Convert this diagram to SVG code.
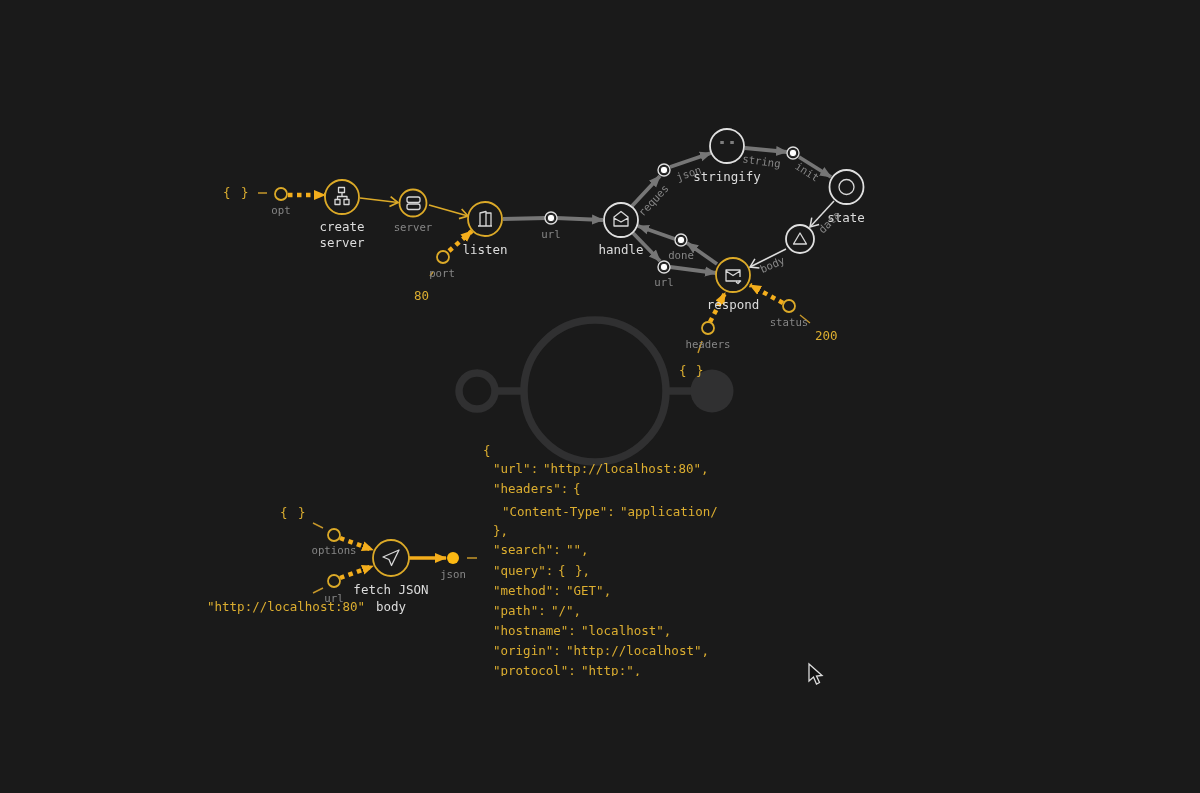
<svg xmlns="http://www.w3.org/2000/svg" width="1200" height="793" viewBox="0 0 1200 793">
<style>
text{font-family:"DejaVu Sans Mono","Liberation Mono",monospace}
.t{font-size:12.5px;fill:#dcdcdc;text-anchor:middle}
.l{font-size:10.7px;fill:#868686;text-anchor:middle}
.v{font-size:12.5px;fill:#dcae30}
.n{fill:#1a1a1a;stroke:#e0e0e0;stroke-width:1.8}
.y{fill:#1a1a1a;stroke:#dcaa28;stroke-width:1.8}
.p{fill:#fff;stroke:#1a1a1a;stroke-width:1}
.r{fill:#1a1a1a;stroke:#dcdcdc;stroke-width:1.4}
.ic{fill:none;stroke:#d8d8d8;stroke-width:1.3;stroke-linejoin:round}
.g{fill:none;stroke:#767676;stroke-width:3.8}
.w{fill:none;stroke:#dcdcdc;stroke-width:1.5}
.o{fill:none;stroke:#dcaa28;stroke-width:1.7}
.d{fill:none;stroke:#f4ae1c;stroke-width:4.5;stroke-dasharray:4.500 4.500}
.s{fill:none;stroke:#f4ae1c;stroke-width:3.6}
.tick{fill:none;stroke:#c5962a;stroke-width:1.4}
</style>
<defs>
<filter id="soft" x="0" y="0" width="1200" height="793" filterUnits="userSpaceOnUse" color-interpolation-filters="sRGB"><feGaussianBlur stdDeviation="0.35"/></filter>
<marker id="ag" markerUnits="userSpaceOnUse" markerWidth="14" markerHeight="12" refX="11" refY="6" orient="auto"><path d="M0 1L12 6L0 11z" fill="#767676"/></marker>
<marker id="aw" markerUnits="userSpaceOnUse" markerWidth="12" markerHeight="12" refX="10" refY="6" orient="auto"><path d="M2 1L10 6L2 11" fill="none" stroke="#dcdcdc" stroke-width="1.5"/></marker>
<marker id="ao" markerUnits="userSpaceOnUse" markerWidth="12" markerHeight="12" refX="10" refY="6" orient="auto"><path d="M2 1L10 6L2 11" fill="none" stroke="#dcaa28" stroke-width="1.7"/></marker>
<marker id="ay" markerUnits="userSpaceOnUse" markerWidth="14" markerHeight="14" refX="11" refY="7" orient="auto"><path d="M0 2L12 7L0 12z" fill="#f4ae1c"/></marker>
<clipPath id="cl"><rect x="480" y="660" width="260" height="16"/></clipPath>
</defs>
<rect width="1200" height="793" fill="#1a1a1a"/>
<g id="diagram" filter="url(#soft)">
<g id="watermark" fill="none" stroke="#303031">
<circle cx="477" cy="391" r="18" stroke-width="7.5"/>
<circle cx="595" cy="391" r="71" stroke-width="7.5"/>
<path d="M498 391H522M668 391H692" stroke-width="7.5"/>
<circle cx="712" cy="391" r="21.500" fill="#303031" stroke="none"/>
</g>
<g id="connectors">
<path class="d" d="M288 195H325" marker-end="url(#ay)"/>
<path class="o" d="M360 198L398 202.500" marker-end="url(#ao)"/>
<path class="o" d="M429 205L468 216" marker-end="url(#ao)"/>
<path class="d" d="M449 251L472 231" marker-end="url(#ay)"/>
<path class="g" d="M503 219L546 218"/>
<path class="g" d="M556 218L603 220" marker-end="url(#ag)"/>
<path class="g" d="M632 206L660 176" marker-end="url(#ag)"/>
<path class="g" d="M670 167L711 153" marker-end="url(#ag)"/>
<path class="g" d="M745 148L787 152" marker-end="url(#ag)"/>
<path class="g" d="M799 157L831 177" marker-end="url(#ag)"/>
<path class="w" d="M834 201L810 227" marker-end="url(#aw)"/>
<path class="w" d="M786 249L750 267" marker-end="url(#aw)"/>
<path class="g" d="M717 264L687 243" marker-end="url(#ag)"/>
<path class="g" d="M675 239L638 226" marker-end="url(#ag)"/>
<path class="g" d="M633 233L660 261" marker-end="url(#ag)"/>
<path class="g" d="M670 267L716 273" marker-end="url(#ag)"/>
<path class="d" d="M710 322L725 293" marker-end="url(#ay)"/>
<path class="d" d="M783 303L750 285" marker-end="url(#ay)"/>
<path class="d" d="M340 538L373 550" marker-end="url(#ay)"/>
<path class="d" d="M340 578L373 566" marker-end="url(#ay)"/>
<path class="s" d="M409 558H446" marker-end="url(#ay)"/>
<path class="tick" d="M258 193H267M313 523L323 528M313 593L323 588M430 276L433 272M467 558H477M698 353L702 341M800 315L810 323"/>
</g>
<g id="opt"><circle class="y" cx="281" cy="194" r="6"/><text class="l" x="281" y="214">opt</text><text class="v" x="223" y="197">{<tspan x="241">}</tspan></text></g>
<g id="create-server"><circle class="y" cx="342" cy="197" r="17"/>
<path class="ic" d="M338.500 187.500h6v5h-6zM335 199.500h5v5h-5zM344 199.500h5v5h-5zM342 192.500v4M337.500 199.500v-3h9.500v3"/>
<text class="t" x="342" y="231">create</text><text class="t" x="342" y="247">server</text></g>
<g id="server"><circle class="y" cx="413" cy="203" r="13.500"/>
<rect class="ic" x="407" y="197" width="13" height="5.500" rx="2"/><rect class="ic" x="407" y="204" width="13" height="5.500" rx="2"/>
<text class="l" x="413" y="231">server</text></g>
<g id="listen"><circle class="y" cx="485" cy="219" r="17"/>
<path class="ic" d="M478 226h14M480 226v-13l6-1.500v14.500M486 213h5v13"/>
<text class="t" x="485" y="254">listen</text></g>
<g id="port"><circle class="y" cx="443" cy="257" r="6"/><text class="l" x="442" y="277">port</text><text class="v" x="414" y="300">80</text></g>
<g id="url-1"><circle class="r" cx="551" cy="218" r="6"/><circle class="p" cx="551" cy="218" r="3.800"/><text class="l" x="551" y="238">url</text></g>
<g id="handle"><circle class="n" cx="621" cy="220" r="17"/>
<path class="ic" d="M614 217l7-5.500l7 5.500v9h-14zM614 218l7 4l7-4"/>
<text class="t" x="621" y="254">handle</text></g>
<g id="reques"><circle class="r" cx="664" cy="170" r="6"/><circle class="p" cx="664" cy="170" r="3.800"/><text class="l" transform="translate(643 217) rotate(-47)" x="0" y="0" style="text-anchor:start">reques</text></g>
<g id="json-a"><text class="l" x="690" y="177" transform="rotate(-19 690 177)">json</text></g>
<g id="stringify"><circle class="n" cx="727" cy="146" r="17"/>
<text x="727" y="149" style="font-size:10px;fill:#d8d8d8;text-anchor:middle">"<tspan dx="4">"</tspan></text>
<text class="t" x="727" y="181">stringify</text></g>
<g id="string"><circle class="r" cx="793" cy="153" r="6"/><circle class="p" cx="793" cy="153" r="3.800"/><text class="l" x="761" y="165" transform="rotate(8 761 165)">string</text></g>
<g id="init"><text class="l" x="805" y="175" transform="rotate(33 805 175)">init</text></g>
<g id="state"><circle class="n" cx="846.500" cy="187" r="17"/><circle class="ic" cx="846.500" cy="187" r="7.500"/>
<text class="t" x="846" y="222">state</text></g>
<g id="data"><text class="l" x="832" y="225" transform="rotate(-45 832 225)">data</text></g>
<g id="body-n"><circle class="n" cx="800" cy="239" r="14"/><path class="ic" d="M800 233l6.500 11h-13z"/>
<text class="l" x="774" y="268" transform="rotate(-24 774 268)">body</text></g>
<g id="done"><circle class="r" cx="681" cy="240" r="6"/><circle class="p" cx="681" cy="240" r="3.800"/><text class="l" x="681" y="259">done</text></g>
<g id="url-2"><circle class="r" cx="664" cy="267" r="6"/><circle class="p" cx="664" cy="267" r="3.800"/><text class="l" x="664" y="286">url</text></g>
<g id="respond"><circle class="y" cx="733" cy="275" r="17"/>
<path class="ic" d="M740 281h-14v-11h14v7M726 271l7 4.500l7-4.500M736 282l2 1.500l3-3"/>
<text class="t" x="733" y="309">respond</text></g>
<g id="status"><circle class="y" cx="789" cy="306" r="6"/><text class="l" x="789" y="326">status</text><text class="v" x="815" y="340">200</text></g>
<g id="headers"><circle class="y" cx="708" cy="328" r="6"/><text class="l" x="708" y="348">headers</text><text class="v" x="679" y="375">{<tspan x="696">}</tspan></text></g>
<g id="options"><circle class="y" cx="334" cy="535" r="6"/><text class="l" x="334" y="554">options</text><text class="v" x="280" y="517">{<tspan x="298">}</tspan></text></g>
<g id="url-3"><circle class="y" cx="334" cy="581" r="6"/><text class="l" x="334" y="602">url</text><text class="v" x="207" y="611">"http://localhost:80"</text></g>
<g id="fetch-json"><circle class="y" cx="391" cy="558" r="18"/>
<path class="ic" d="M399 550l-16 7l6 2.500l2.500 6z"/>
<text class="t" x="391" y="594">fetch JSON</text><text class="t" x="391" y="611">body</text></g>
<g id="json-out"><circle cx="453" cy="558" r="6" fill="#fdb913"/><text class="l" x="453" y="578">json</text></g>
<g id="output">
<text class="v" x="483" y="455">{</text>
<text class="v" x="493" y="473">"url":<tspan x="543">"http://localhost:80",</tspan></text>
<text class="v" x="493" y="493">"headers":<tspan x="573">{</tspan></text>
<text class="v" x="502" y="516">"Content-Type":<tspan x="620">"application/</tspan></text>
<text class="v" x="493" y="535">},</text>
<text class="v" x="493" y="554">"search":<tspan x="566">"",</tspan></text>
<text class="v" x="493" y="575">"query":<tspan x="558">{</tspan><tspan x="575">},</tspan></text>
<text class="v" x="493" y="595">"method":<tspan x="566">"GET",</tspan></text>
<text class="v" x="493" y="615">"path":<tspan x="551">"/",</tspan></text>
<text class="v" x="493" y="635">"hostname":<tspan x="581">"localhost",</tspan></text>
<text class="v" x="493" y="655">"origin":<tspan x="566">"http://localhost",</tspan></text>
<text class="v" x="493" y="675" clip-path="url(#cl)">"protocol":<tspan x="581">"http:",</tspan></text>
</g>
<path id="cursor" d="M809 664V681L813.500 677L816.500 684L819.500 682.500L816.500 676L822 675.500z" fill="#111" stroke="#dcdcdc" stroke-width="1.300"/>
</g>
</svg>
